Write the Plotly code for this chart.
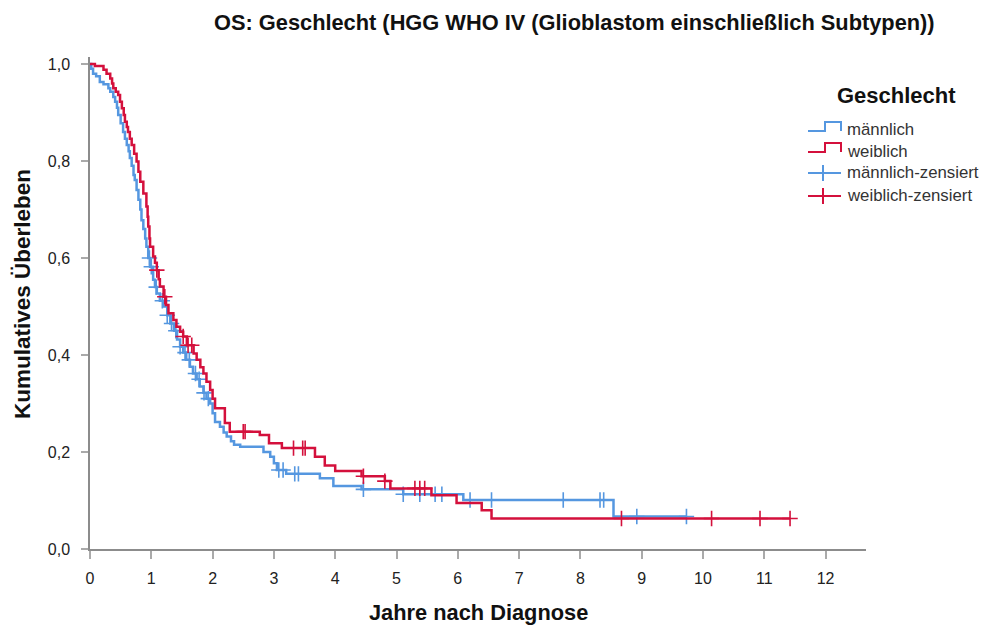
import numpy as np
import plotly.graph_objects as go

# ---------------- data ----------------
# männlich (male): event times (years) and survival after each step
m_times = [0.00, 0.02, 0.05, 0.10, 0.16, 0.22, 0.30, 0.33, 0.38, 0.41, 0.44, 0.46, 0.50, 0.54,
           0.57, 0.60, 0.63, 0.65, 0.68, 0.71, 0.73, 0.76, 0.79, 0.82, 0.84, 0.87, 0.90, 0.92,
           0.95, 0.98, 1.03, 1.06, 1.09, 1.14, 1.20, 1.26, 1.31, 1.37, 1.42, 1.47, 1.52, 1.57,
           1.63, 1.68, 1.74, 1.79, 1.85, 1.90, 1.96, 2.00, 2.04, 2.12, 2.18, 2.23, 2.30, 2.35,
           2.45, 2.83, 2.94, 3.00, 3.05, 3.20, 3.75, 3.97, 4.43, 5.11, 6.09, 8.54]
m_surv = [1.000, 0.990, 0.980, 0.975, 0.963, 0.958, 0.950, 0.943, 0.932, 0.922, 0.910, 0.895,
          0.878, 0.860, 0.846, 0.833, 0.820, 0.806, 0.790, 0.771, 0.761, 0.740, 0.720, 0.700,
          0.678, 0.660, 0.640, 0.623, 0.600, 0.582, 0.555, 0.540, 0.527, 0.512, 0.500, 0.482,
          0.465, 0.450, 0.432, 0.417, 0.405, 0.390, 0.376, 0.362, 0.350, 0.335, 0.322, 0.310,
          0.300, 0.280, 0.262, 0.252, 0.240, 0.232, 0.222, 0.215, 0.211, 0.200, 0.190, 0.177,
          0.163, 0.155, 0.146, 0.130, 0.123, 0.113, 0.101, 0.067]
m_end = 9.73
m_censored = [0.97, 1.00, 1.08, 1.18, 1.26, 1.33, 1.40, 1.47, 1.55, 1.62, 1.72, 1.78, 1.86,
              1.93, 3.08, 3.15, 3.34, 3.40, 4.46, 5.11, 5.38, 5.63, 5.74, 6.20, 6.55, 7.72,
              8.32, 8.38, 8.92, 9.73]

# weiblich (female)
w_times = [0.00, 0.08, 0.22, 0.27, 0.33, 0.36, 0.38, 0.42, 0.46, 0.49, 0.52, 0.55, 0.57, 0.60,
           0.62, 0.65, 0.68, 0.72, 0.76, 0.79, 0.82, 0.87, 0.92, 0.94, 0.95, 0.97, 0.98, 1.03,
           1.06, 1.09, 1.12, 1.14, 1.20, 1.24, 1.28, 1.36, 1.41, 1.47, 1.52, 1.58, 1.69, 1.74,
           1.80, 1.85, 1.90, 1.96, 2.00, 2.04, 2.20, 2.28, 2.77, 2.92, 3.13, 3.67, 3.83, 4.00,
           4.43, 4.81, 4.90, 5.57, 5.98, 6.39, 6.55]
w_surv = [1.000, 0.996, 0.988, 0.980, 0.970, 0.960, 0.950, 0.943, 0.936, 0.922, 0.909, 0.895,
          0.881, 0.870, 0.860, 0.846, 0.833, 0.815, 0.799, 0.778, 0.757, 0.733, 0.706, 0.685,
          0.665, 0.640, 0.623, 0.603, 0.590, 0.575, 0.556, 0.541, 0.520, 0.503, 0.486, 0.472,
          0.458, 0.448, 0.438, 0.420, 0.403, 0.390, 0.375, 0.362, 0.345, 0.328, 0.310, 0.290,
          0.260, 0.242, 0.235, 0.218, 0.208, 0.190, 0.172, 0.161, 0.150, 0.140, 0.125, 0.111,
          0.095, 0.080, 0.063]
w_end = 11.42
w_censored = [1.09, 1.22, 1.52, 1.60, 1.66, 2.50, 2.53, 3.32, 3.47, 3.51, 4.46, 4.81, 5.30,
              5.38, 5.46, 8.67, 10.14, 10.93, 11.42]

x_ticks = list(range(0, 13))
y_ticks = [0.0, 0.2, 0.4, 0.6, 0.8, 1.0]
y_ticktext = ["0,0", "0,2", "0,4", "0,6", "0,8", "1,0"]

title_text = "OS: Geschlecht (HGG WHO IV (Glioblastom einschließlich Subtypen))"
legend_title = "Geschlecht"
legend_labels = ["männlich", "weiblich", "männlich-zensiert", "weiblich-zensiert"]

BLUE = "#5597e0"
RED = "#d4103c"
FONT = "Liberation Sans, Arial, sans-serif"


def step_at(times, surv, t):
    times = np.asarray(times)
    idx = np.searchsorted(times, t, side="right") - 1
    return np.asarray(surv)[idx]


fig = go.Figure()

for times, surv, end, cens, col in [
    (m_times, m_surv, m_end, m_censored, BLUE),
    (w_times, w_surv, w_end, w_censored, RED),
]:
    xs = list(times) + [end]
    ys = list(surv) + [surv[-1]]
    fig.add_trace(go.Scatter(x=xs, y=ys, mode="lines", line=dict(color=col, width=2.5, shape="hv"),
                             showlegend=False, hoverinfo="skip"))
    cy = step_at(times, surv, np.asarray(cens))
    fig.add_trace(go.Scatter(x=cens, y=cy, mode="markers",
                             marker=dict(symbol="cross-thin", size=11, line=dict(color=col, width=1.6)),
                             showlegend=False, hoverinfo="skip"))

# plot area in pixels: x 90..866, y 57..549
L, R, T, B = 90, 866, 57, 549
W, H = 989, 627


def px(xp):
    return (xp - L) / (R - L)


def py(yp):
    return (B - yp) / (B - T)


shapes = []
annotations = []

# manual legend (step symbols + censor symbols)
sym_rows = [130, 151, 173, 196]
for i, (lab, col) in enumerate(zip(legend_labels, [BLUE, RED, BLUE, RED])):
    yc = sym_rows[i]
    if i < 2:
        pts = [(808, yc + 1), (825, yc + 1), (825, yc - 8), (841, yc - 8), (841, yc + 1)]
        path = "M " + " L ".join(f"{px(a):.5f},{py(b):.5f}" for a, b in pts)
        shapes.append(dict(type="path", path=path, xref="paper", yref="paper",
                           line=dict(color=col, width=2)))
    else:
        shapes.append(dict(type="line", xref="paper", yref="paper", x0=px(808), x1=px(841),
                           y0=py(yc), y1=py(yc), line=dict(color=col, width=2)))
        shapes.append(dict(type="line", xref="paper", yref="paper", x0=px(823), x1=px(823),
                           y0=py(yc - 8), y1=py(yc + 8), line=dict(color=col, width=2)))
    annotations.append(dict(text=lab, xref="paper", yref="paper", x=px(845), y=py(yc),
                            xanchor="left", yanchor="middle", showarrow=False,
                            font=dict(family=FONT, size=16.8, color="#333333")))

annotations.append(dict(text=f"<b>{legend_title}</b>", xref="paper", yref="paper", x=px(896), y=py(95),
                        xanchor="center", yanchor="middle", showarrow=False,
                        font=dict(family=FONT, size=22, color="#111111")))
annotations.append(dict(text=f"<b>{title_text}</b>", xref="paper", yref="paper", x=px(574), y=py(22),
                        xanchor="center", yanchor="middle", showarrow=False,
                        font=dict(family=FONT, size=21.8, color="#111111")))
annotations.append(dict(text="<b>Jahre nach Diagnose</b>", xref="paper", yref="paper", x=px(478), y=py(612),
                        xanchor="center", yanchor="middle", showarrow=False,
                        font=dict(family=FONT, size=21.8, color="#111111")))
annotations.append(dict(text="<b>Kumulatives Überleben</b>", xref="paper", yref="paper", x=px(22), y=py(294),
                        xanchor="center", yanchor="middle", showarrow=False, textangle=-90,
                        font=dict(family=FONT, size=22.5, color="#111111")))

x_max = (R - L) / 61.3
y_max = (B - T) / 485.0

fig.update_layout(
    width=W, height=H,
    margin=dict(l=L, r=W - R, t=T, b=H - B),
    paper_bgcolor="white", plot_bgcolor="white",
    shapes=shapes, annotations=annotations,
    xaxis=dict(range=[0, x_max], tickvals=x_ticks, ticktext=[str(v) for v in x_ticks],
               showgrid=False, zeroline=False, showline=True, linecolor="#8c8c8c", linewidth=1.5,
               ticks="outside", ticklen=8, tickcolor="#aaaaaa", tickwidth=1.5, ticklabelstandoff=6,
               tickfont=dict(family=FONT, size=16, color="#222222")),
    yaxis=dict(range=[0, y_max], tickvals=y_ticks, ticktext=y_ticktext,
               showgrid=False, zeroline=False, showline=True, linecolor="#8c8c8c", linewidth=1.5,
               ticks="outside", ticklen=7, tickcolor="#aaaaaa", tickwidth=1.5, ticklabelstandoff=8,
               tickfont=dict(family=FONT, size=16, color="#222222")),
    showlegend=False,
)

fig.write_html("out.html")
